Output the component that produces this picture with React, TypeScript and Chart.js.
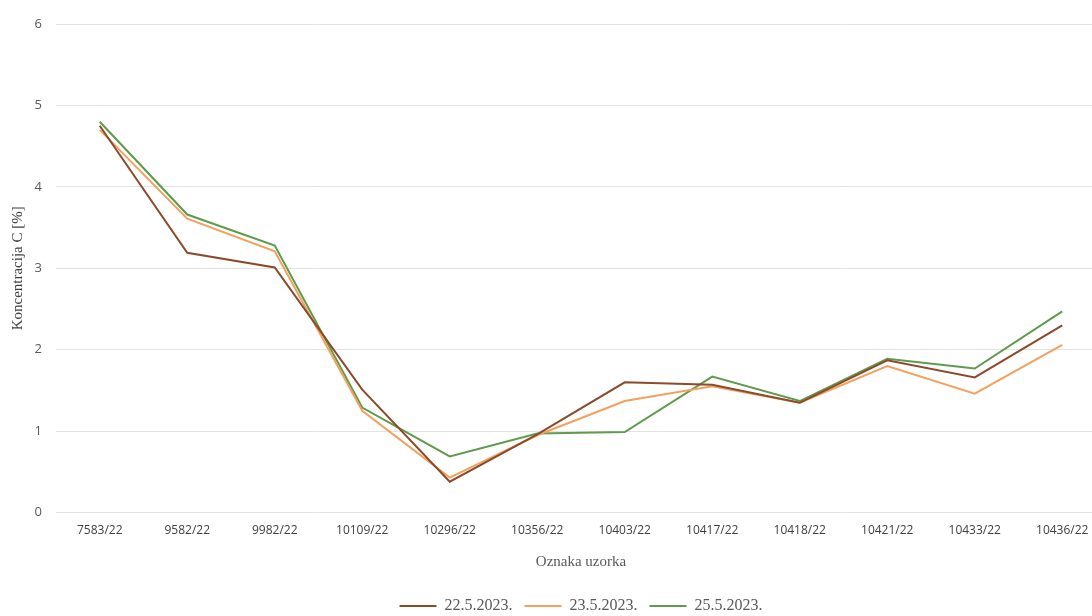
import React, { useEffect, useRef } from "react";
import { Chart, registerables } from "chart.js";

Chart.register(...registerables);

const categories = [
  "7583/22", "9582/22", "9982/22", "10109/22", "10296/22", "10356/22",
  "10403/22", "10417/22", "10418/22", "10421/22", "10433/22", "10436/22",
];
const series22 = [4.75, 3.19, 3.01, 1.51, 0.38, 0.96, 1.6, 1.57, 1.35, 1.87, 1.66, 2.3];
const series23 = [4.7, 3.61, 3.21, 1.25, 0.43, 0.95, 1.37, 1.55, 1.35, 1.8, 1.46, 2.06];
const series25 = [4.8, 3.66, 3.28, 1.29, 0.69, 0.97, 0.99, 1.67, 1.37, 1.89, 1.77, 2.47];
const seriesLabels = ["22.5.2023.", "23.5.2023.", "25.5.2023."];
const seriesColors = ["#8B4B2B", "#F4A05E", "#5E9B4C"];
const yMin = 0;
const yMax = 6;
const yStep = 1;

export default function App() {
  const ref = useRef<HTMLCanvasElement | null>(null);

  useEffect(() => {
    document.body.style.margin = "0";
    const canvas = ref.current;
    if (!canvas) return;
    const chart = new Chart(canvas, {
      type: "line",
      data: {
        labels: categories,
        datasets: [series22, series23, series25].map((d, i) => ({
          label: seriesLabels[i],
          data: d,
          borderColor: seriesColors[i],
          backgroundColor: seriesColors[i],
          borderWidth: 2,
          pointRadius: 0,
          tension: 0,
          fill: false,
        })),
      },
      options: {
        responsive: false,
        animation: false,
        maintainAspectRatio: false,
        layout: { padding: { top: 24, bottom: -8, left: 0, right: 0 } },
        plugins: {
          tooltip: { enabled: false },
          legend: {
            position: "bottom",
            fullSize: false,
            labels: {
              boxWidth: 37,
              boxHeight: 2,
              padding: 12,
              color: "#595959",
              font: { family: "'Liberation Serif', serif", size: 16 },
              generateLabels: (c: any) =>
                Chart.defaults.plugins.legend.labels
                  .generateLabels(c)
                  .map((it: any) => ({ ...it, lineWidth: 0 })),
            },
          },
        },
        scales: {
          x: {
            offset: true,
            grid: { display: false, drawTicks: false },
            border: { display: false },
            ticks: {
              color: "#404040",
              padding: 11,
              maxRotation: 0,
              autoSkip: false,
              font: { family: "'Open Sans', sans-serif", size: 12 },
            },
            title: {
              display: true,
              text: "Oznaka uzorka",
              color: "#595959",
              font: { family: "'Liberation Serif', serif", size: 15 },
              padding: { top: 4, bottom: 15 },
            },
          },
          y: {
            min: yMin,
            max: yMax,
            afterFit: (scale: any) => {
              scale.width = 56;
            },
            grid: { color: "#e3e3e3", lineWidth: 1, drawTicks: false },
            border: { display: false },
            ticks: {
              stepSize: yStep,
              color: "#595959",
              padding: 14,
              font: { family: "'Open Sans', sans-serif", size: 13 },
            },
            title: {
              display: true,
              text: "Koncentracija C [%]",
              color: "#404040",
              font: { family: "'Liberation Serif', serif", size: 15 },
              padding: { top: 9, bottom: 0 },
            },
          },
        },
      },
    });
    return () => chart.destroy();
  }, []);

  return (
    <div style={{ width: 1092, height: 616, overflow: "hidden", position: "relative" }}>
      <canvas ref={ref} width={1106} height={616} style={{ display: "block" }} />
    </div>
  );
}
